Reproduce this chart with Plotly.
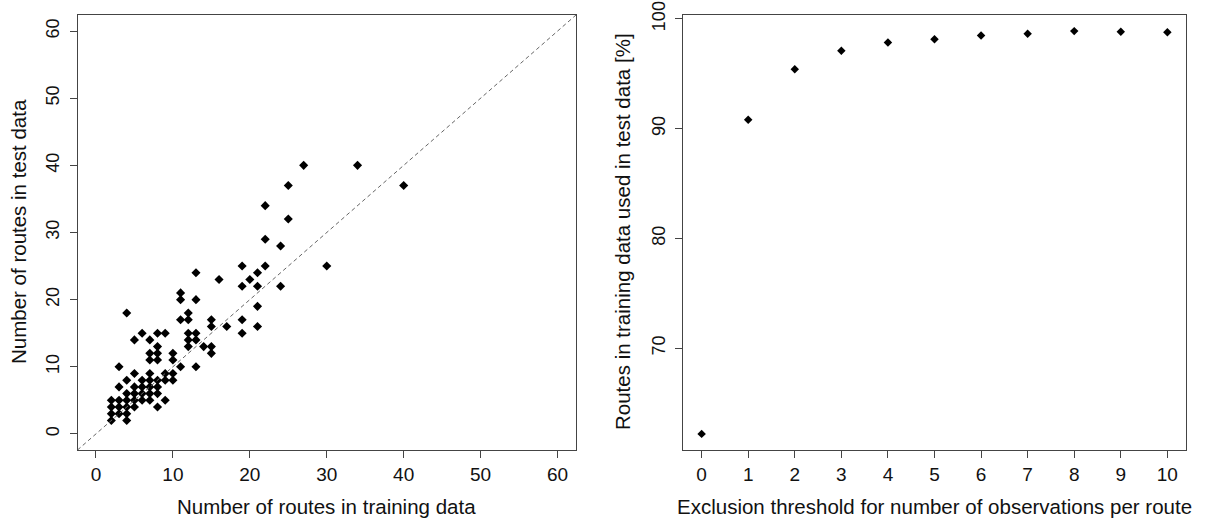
import plotly.graph_objects as go

# ---- Left panel data: routes in training vs test data ----
train_routes = [2, 4,
                2, 3, 4,
                2, 3, 4, 5, 8,
                2, 3, 4, 5, 6, 7, 9,
                4, 5, 6, 7, 8,
                3, 5, 6, 7, 8,
                4, 6, 7, 8, 9, 10,
                5, 7, 9, 10,
                3, 11, 13,
                7, 8, 10,
                7, 8, 10, 15,
                8, 12, 14, 15,
                5, 7, 12, 13,
                6, 8, 9, 12, 13, 19,
                15, 17, 21,
                11, 12, 15, 19,
                4, 12,
                21,
                11, 13,
                11,
                19, 21, 24,
                16, 20,
                13, 21,
                19, 22, 30,
                24,
                22,
                25,
                22,
                25, 40,
                27, 34]
test_routes = [2, 2,
               3, 3, 3,
               4, 4, 4, 4, 4,
               5, 5, 5, 5, 5, 5, 5,
               6, 6, 6, 6, 6,
               7, 7, 7, 7, 7,
               8, 8, 8, 8, 8, 8,
               9, 9, 9, 9,
               10, 10, 10,
               11, 11, 11,
               12, 12, 12, 12,
               13, 13, 13, 13,
               14, 14, 14, 14,
               15, 15, 15, 15, 15, 15,
               16, 16, 16,
               17, 17, 17, 17,
               18, 18,
               19,
               20, 20,
               21,
               22, 22, 22,
               23, 23,
               24, 24,
               25, 25, 25,
               28,
               29,
               32,
               34,
               37, 37,
               40, 40]

# ---- Right panel data: exclusion threshold vs % routes used ----
thresholds = [0, 1, 2, 3, 4, 5, 6, 7, 8, 9, 10]
pct_used = [62.2, 90.8, 95.4, 97.1, 97.85, 98.13, 98.48, 98.64, 98.88, 98.83, 98.77]

left_ticks = [0, 10, 20, 30, 40, 50, 60]
right_yticks = [70, 80, 90, 100]

# R-style 4% axis expansion
def expand(lo, hi, f=0.04):
    d = (hi - lo) * f
    return [lo - d, hi + d]

left_range = expand(0, 60)
right_xrange = expand(min(thresholds), max(thresholds))
right_yrange = expand(min(pct_used), max(pct_used))

FONT = "Liberation Sans, Arial, sans-serif"
AX = "#444444"
TXT = "#111111"

fig = go.Figure()

fig.add_trace(go.Scatter(
    x=train_routes, y=test_routes, mode="markers",
    marker=dict(symbol="diamond", size=7, color="black"),
    xaxis="x", yaxis="y", showlegend=False, hoverinfo="x+y"))

fig.add_trace(go.Scatter(
    x=thresholds, y=pct_used, mode="markers",
    marker=dict(symbol="diamond", size=6.5, color="black"),
    xaxis="x2", yaxis="y2", showlegend=False, hoverinfo="x+y"))

# y = x reference line (dashed)
fig.add_shape(type="line", xref="x", yref="y",
              x0=left_range[0], y0=left_range[0], x1=left_range[1], y1=left_range[1],
              line=dict(color="#666666", width=1, dash="4px,3px"))

W, H = 1210, 520
ydom = [1 - 450 / H, 1 - 15 / H]

common = dict(showline=True, mirror=True, linecolor=AX, linewidth=1,
              ticks="outside", ticklen=7, tickcolor=AX, tickwidth=1,
              showgrid=False, zeroline=False, ticklabeloverflow="allow",
              automargin=False)
xfont = dict(family=FONT, size=19, color=TXT)
yfont = dict(family=FONT, size=18, color=TXT)

TS = 20.5
LX = [77.5, 576]
RX = [683, 1186]
layout = dict(
    width=W, height=H,
    margin=dict(l=0, r=0, t=0, b=0, autoexpand=False),
    paper_bgcolor="white", plot_bgcolor="white",
    font=dict(family=FONT, color=TXT),
    xaxis=dict(domain=[LX[0] / W, LX[1] / W], range=left_range, tickvals=left_ticks,
               anchor="y", tickfont=xfont, **common),
    yaxis=dict(domain=ydom, range=left_range, tickvals=left_ticks, tickangle=-90,
               anchor="x", ticklabelstandoff=3, tickfont=yfont, **common),
    xaxis2=dict(domain=[RX[0] / W, RX[1] / W], range=right_xrange, tickvals=thresholds,
                anchor="y2", tickfont=xfont, **common),
    yaxis2=dict(domain=ydom, range=right_yrange, tickvals=right_yticks, tickangle=-90,
                anchor="x2", ticklabelstandoff=3, tickfont=yfont, **common),
    annotations=[
        dict(text="Number of routes in training data", x=sum(LX) / 2 / W, y=1 - 506 / H,
             xref="paper", yref="paper", showarrow=False,
             font=dict(family=FONT, size=TS, color=TXT), xanchor="center", yanchor="middle"),
        dict(text="Number of routes in test data", x=19 / W, y=1 - 232 / H,
             xref="paper", yref="paper", showarrow=False, textangle=-90,
             font=dict(family=FONT, size=TS, color=TXT), xanchor="center", yanchor="middle"),
        dict(text="Exclusion threshold for number of observations per route",
             x=sum(RX) / 2 / W, y=1 - 506 / H,
             xref="paper", yref="paper", showarrow=False,
             font=dict(family=FONT, size=TS, color=TXT), xanchor="center", yanchor="middle"),
        dict(text="Routes in training data used in test data [%]", x=623 / W, y=1 - 232 / H,
             xref="paper", yref="paper", showarrow=False, textangle=-90,
             font=dict(family=FONT, size=TS, color=TXT), xanchor="center", yanchor="middle"),
    ],
)
fig.update_layout(**layout)

fig.write_html("out.html")
